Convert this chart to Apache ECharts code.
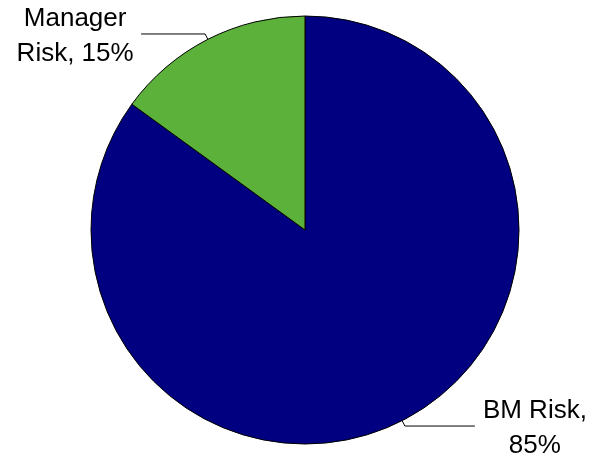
<!DOCTYPE html>
<html>
<head>
<meta charset="utf-8">
<script src="https://cdn.jsdelivr.net/npm/echarts@6/dist/echarts.min.js"></script>
<style>
html,body{margin:0;padding:0;background:#fff;}
#chart{width:592px;height:454px;}
</style>
</head>
<body>
<div id="chart"></div>
<script>
const categories = ['BM Risk', 'Manager Risk'];
const values = [85, 15];
const labelLines = [['BM Risk,', '85%'], ['Manager', 'Risk, 15%']];
const colors = ['#000080', '#5CB13B'];
const boxWidths = [108, 120];
const leaderLengths = [70, 64];

const chart = echarts.init(document.getElementById('chart'), null, {renderer: 'canvas'});
const data = categories.map((name, i) => ({
  name: name,
  value: values[i],
  itemStyle: {color: colors[i]},
  labelLine: {length2: leaderLengths[i]},
  label: {
    formatter: labelLines[i].map(t => '{a|' + t + '}').join('\n'),
    rich: {a: {width: boxWidths[i], align: 'center', fontSize: 26, lineHeight: 35, fontFamily: 'Liberation Sans, Arial, sans-serif', color: '#000'}}
  }
}));

chart.setOption({
  animation: false,
  backgroundColor: '#fff',
  series: [{
    type: 'pie',
    center: [305, 230],
    radius: [0, 214],
    startAngle: 90,
    clockwise: true,
    avoidLabelOverlap: false,
    itemStyle: {borderColor: '#000', borderWidth: 1},
    label: {
      show: true,
      position: 'outside',
      distanceToLabelLine: 6,
      padding: [5, 0, 0, 0],
      fontSize: 26,
      color: '#000'
    },
    labelLine: {
      show: true,
      length: 6,
      length2: 64,
      smooth: false,
      lineStyle: {color: '#000', width: 1}
    },
    emphasis: {disabled: true},
    data: data
  }]
});
</script>
</body>
</html>
